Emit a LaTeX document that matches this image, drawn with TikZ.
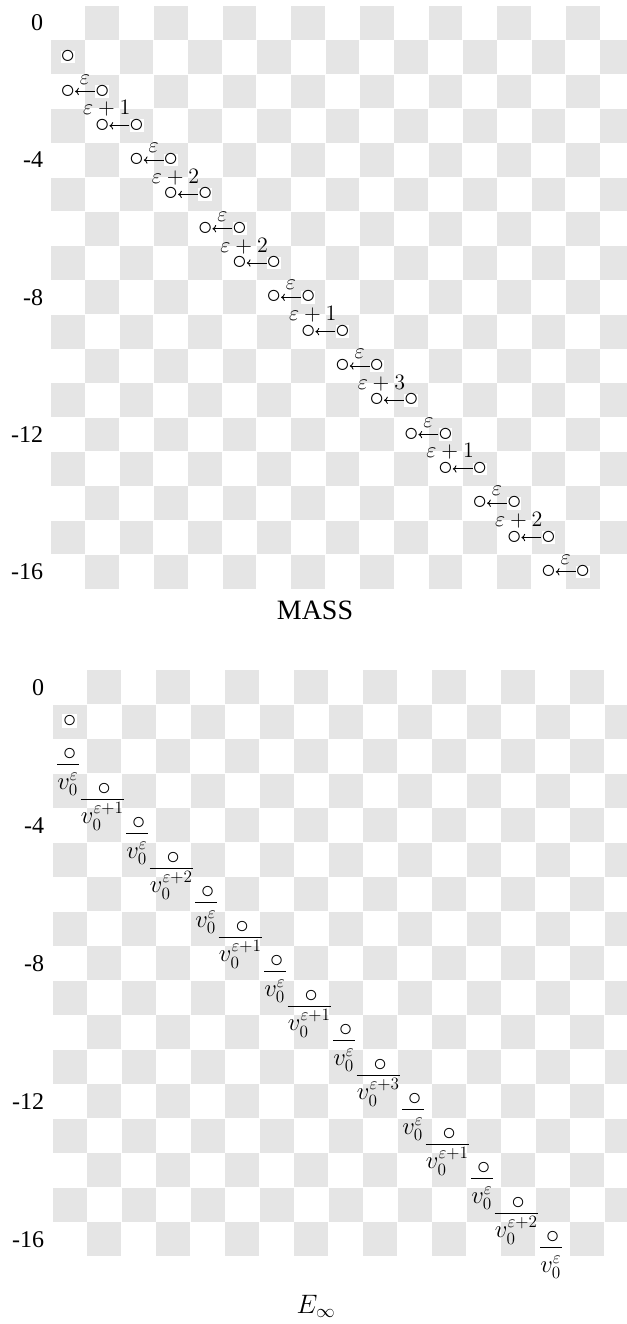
\RequirePackage{fix-cm}
\documentclass[tikz,border=0pt]{standalone}
\usepackage{amsmath}
\usepackage{fontspec}
\setmainfont{Liberation Serif}
\usetikzlibrary{arrows.meta,calc}
\definecolor{cellgrey}{RGB}{229,229,229}
\tikzset{
  gcell/.style={fill=cellgrey},
  dot/.style={fill=white, inner xsep=-0.5pt, inner ysep=-0.2pt, font=\fontsize{19}{19}\selectfont},
  bdot/.style={fill=white, inner xsep=0.6pt, inner ysep=0.6pt, font=\fontsize{17.5}{17.5}\selectfont},
  numdot/.style={inner sep=0pt, font=\fontsize{17.5}{17.5}\selectfont},
  rowlab/.style={anchor=east, inner sep=0pt, font=\fontsize{18}{18}\selectfont},
  capt/.style={inner sep=0pt, font=\fontsize{21}{21}\selectfont},
  dlab/.style={anchor=base, inner sep=0pt, font=\fontsize{16.5}{16.5}\selectfont},
  den/.style={anchor=base, inner sep=0pt, font=\fontsize{18.5}{18.5}\selectfont},
  diff/.style={-{To[length=2.8pt,width=5.5pt]}, line width=0.65pt},
  fracbar/.style={line width=0.8pt},
}
\begin{document}
\begin{tikzpicture}[x=0.75pt,y=-0.75pt]
\useasboundingbox (0,0) rectangle (627,1324);
\begin{scope}
\clip (0,0) rectangle (627,1324);
\foreach \r in {0,...,16}{
  \foreach \c in {0,...,16}{
    \pgfmathtruncatemacro\odd{mod(\r+\c,2)}
    \ifnum\odd=1
      \fill[gcell] ({50.7+\c*34.33+0.3},{5.7+\r*34.31+0.3}) rectangle ++(33.73,33.71);
      \fill[gcell] ({52.3+\c*34.5+0.3},{670+\r*34.5+0.3}) rectangle ++(33.9,33.9);
    \fi
  }
}
\end{scope}
% row labels
\foreach \r/\t in {0/0,4/-4,8/-8,12/-12,16/-16}{
  \node[rowlab] (tl\r) at (43.5,{5.7+(\r+0.5)*34.31}) {\t};
  \node[rowlab] (bl\r) at (44.5,{670+(\r+0.5)*34.5}) {\t};
}
% top panel: MASS
\node[dot] (t1) at ({50.7+0.5*34.33},{5.7+1.5*34.31}) {○};
\foreach \r/\k in {2/0,3/1,4/0,5/2,6/0,7/2,8/0,9/1,10/0,11/3,12/0,13/1,14/0,15/2,16/0}{
  \pgfmathsetmacro\xl{50.7+(\r-1.5)*34.33}
  \pgfmathsetmacro\yy{5.7+(\r+0.5)*34.31}
  \node[dot] (tL\r) at (\xl,\yy) {○};
  \node[dot] (tR\r) at ({\xl+34.33},\yy) {○};
  \ifnum\k=0
    \draw[diff] (tR\r) -- (tL\r) node[dlab, midway, yshift=5.6pt] {$\varepsilon$};
  \else
    \draw[diff] (tR\r) -- (tL\r) node[dlab, midway, xshift=-9.4pt, yshift=8.2pt] {$\varepsilon+\k$};
  \fi
}
\node[capt] (mass) at (315,610.3) {MASS};
% bottom panel: E infinity
\node[bdot] (b1) at ({52.3+0.5*34.5},{670+1.5*34.5-0.7}) {○};
\foreach \r/\k in {2/0,3/1,4/0,5/2,6/0,7/1,8/0,9/1,10/0,11/3,12/0,13/1,14/0,15/2,16/0}{
  \pgfmathsetmacro\xx{52.3+(\r-1.5)*34.5}
  \pgfmathsetmacro\yy{670+(\r+0.5)*34.5}
  \node[numdot] (n\r) at (\xx,{\yy-1.5}) {○};
  \coordinate (bar\r) at (\xx,{\yy+8.6});
  \ifnum\k=0
    \node[den] (d\r) at ({\xx-1.7},{\yy+33}) {$v_0^{\varepsilon}$};
  \else
    \node[den] (d\r) at ({\xx-1.7},{\yy+33}) {$v_0^{\varepsilon+\k}$};
  \fi
  \draw[fracbar] (d\r.west |- bar\r) -- (d\r.east |- bar\r);
}
\node[capt, font=\fontsize{20}{20}\selectfont] (einf) at (316,1306) {$E_\infty$};
\end{tikzpicture}
\end{document}
